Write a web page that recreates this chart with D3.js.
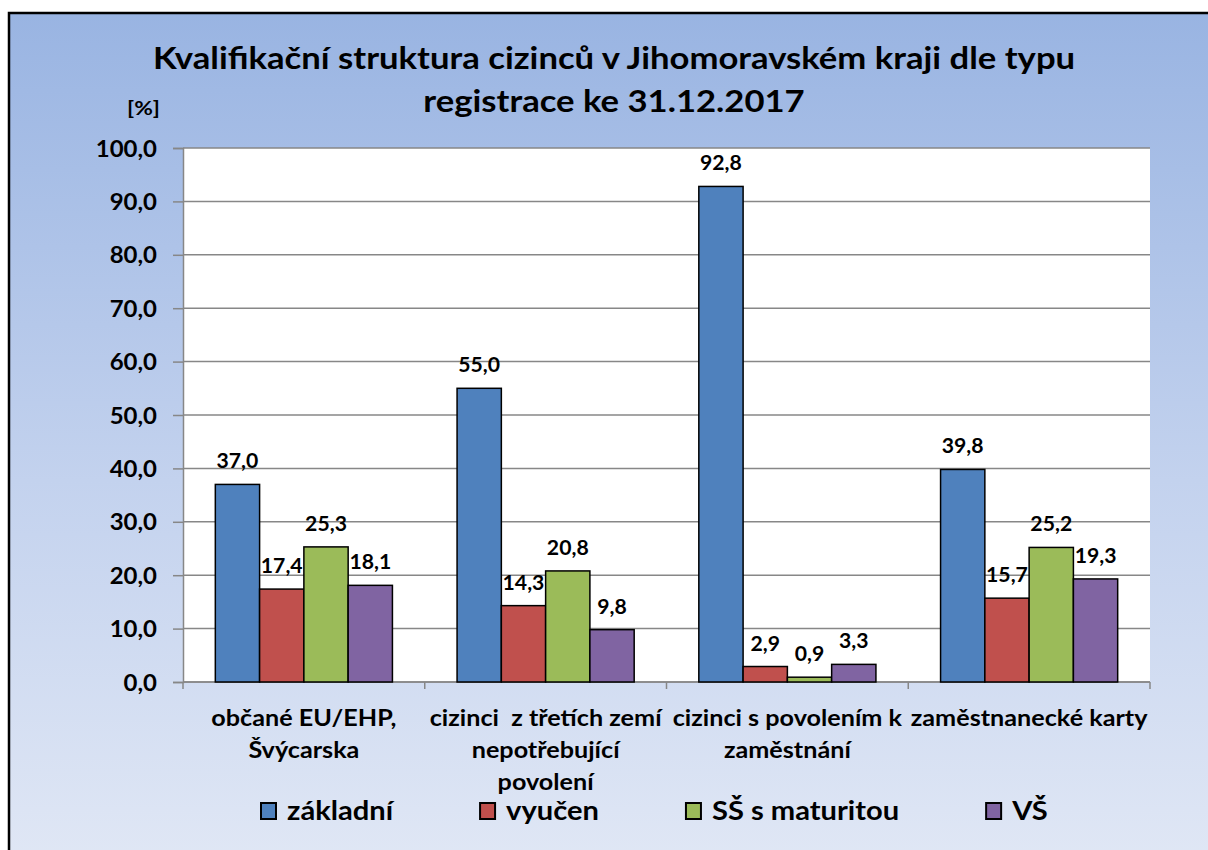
<!DOCTYPE html>
<html>
<head>
<meta charset="utf-8">
<script src="https://cdn.jsdelivr.net/npm/d3@7"></script>
<style>
  html, body { margin: 0; padding: 0; background: #ffffff; }
  svg { display: block; font-family: Lato, "Open Sans", sans-serif; font-weight: 700; }
  text { white-space: pre; }
</style>
</head>
<body>
<svg id="chart" width="1208" height="850"></svg>
<script>
// Qualification structure of foreigners (South Moravian Region, 31.12.2017), in %
const categories = [
  "občané EU/EHP,\nŠvýcarska",
  "cizinci  z třetích zemí\nnepotřebující\npovolení",
  "cizinci s povolením k\nzaměstnání",
  "zaměstnanecké karty"
];
const seriesNames = ["základní", "vyučen", "SŠ s maturitou", "VŠ"];
const zakladni = [37.0, 55.0, 92.8, 39.8];
const vyucen = [17.4, 14.3, 2.9, 15.7];
const ssMaturita = [25.3, 20.8, 0.9, 25.2];
const vs = [18.1, 9.8, 3.3, 19.3];
const yTicks = [0, 10, 20, 30, 40, 50, 60, 70, 80, 90, 100];
const titleLines = ["Kvalifikační struktura cizinců v Jihomoravském kraji dle typu", "registrace ke 31.12.2017"];
const unitLabel = "[%]";

const seriesValues = [zakladni, vyucen, ssMaturita, vs];
const colors = ["#4f81bd", "#c0504d", "#9bbb59", "#8064a2"];

const svg = d3.select("#chart");
const plot = { left: 183, right: 1150, top: 148, bottom: 682 };

// Lato is a touch narrower than the chart's typeface; widen glyphs horizontally
function place(sel, x, y, sx) {
  return sel.attr("transform", `translate(${x},${y}) scale(${sx},1)`);
}

// background panel with vertical gradient
const defs = svg.append("defs");
const grad = defs.append("linearGradient").attr("id", "bg")
  .attr("x1", 0).attr("y1", 0).attr("x2", 0).attr("y2", 1);
grad.append("stop").attr("offset", "0%").attr("stop-color", "#99b4e2");
grad.append("stop").attr("offset", "55%").attr("stop-color", "#c3d2ee");
grad.append("stop").attr("offset", "100%").attr("stop-color", "#e0e7f5");

svg.append("rect")
  .attr("x", 9).attr("y", 13).attr("width", 1215).attr("height", 850)
  .attr("fill", "url(#bg)").attr("stroke", "#000").attr("stroke-width", 2.5);

// plot area
svg.append("rect")
  .attr("x", plot.left).attr("y", plot.top)
  .attr("width", plot.right - plot.left).attr("height", plot.bottom - plot.top)
  .attr("fill", "#ffffff");

const x0 = d3.scaleBand().domain(d3.range(categories.length))
  .range([plot.left, plot.right]).paddingInner(0).paddingOuter(0);
const x1 = d3.scaleBand().domain(d3.range(seriesNames.length))
  .range([0, x0.bandwidth()]).paddingOuter(0.73).paddingInner(0);
const y = d3.scaleLinear().domain([0, 100]).range([plot.bottom, plot.top]);

const fmt = d3.formatLocale({ decimal: ",", thousands: " ", grouping: [3], currency: ["", ""] }).format(".1f");
const gridColor = "#878787";

// horizontal gridlines
svg.append("g").selectAll("line").data(yTicks).join("line")
  .attr("x1", plot.left).attr("x2", plot.right)
  .attr("y1", d => y(d)).attr("y2", d => y(d))
  .attr("stroke", gridColor).attr("stroke-width", 1.5);

// y axis: line and ticks from d3.axisLeft, labels drawn alongside
const yAxis = svg.append("g").attr("transform", `translate(${plot.left},0)`)
  .call(d3.axisLeft(y).tickValues(yTicks).tickFormat("").tickSize(10));
yAxis.select(".domain").attr("stroke", gridColor).attr("stroke-width", 1.5);
yAxis.selectAll(".tick line").attr("stroke", gridColor).attr("stroke-width", 1.5);
svg.append("g").selectAll("text").data(yTicks).join("text")
  .attr("text-anchor", "end").attr("dominant-baseline", "central")
  .style("font-size", "22px").attr("fill", "#000")
  .text(d => fmt(d))
  .each(function(d) { place(d3.select(this), plot.left - 26, y(d), 1.09); });

// x axis with ticks at category boundaries
const bounds = d3.range(categories.length + 1).map(i => i < categories.length ? x0(i) : plot.right);
svg.append("line").attr("x1", plot.left).attr("x2", plot.right)
  .attr("y1", plot.bottom).attr("y2", plot.bottom)
  .attr("stroke", gridColor).attr("stroke-width", 1.5);
svg.append("g").selectAll("line").data(bounds).join("line")
  .attr("x1", d => d).attr("x2", d => d)
  .attr("y1", plot.bottom).attr("y2", plot.bottom + 7)
  .attr("stroke", gridColor).attr("stroke-width", 1.5);

// category labels
const catG = svg.append("g");
categories.forEach((c, i) => {
  const t = catG.append("text")
    .attr("text-anchor", "middle")
    .style("font-size", "22.5px").attr("fill", "#000");
  place(t, x0(i) + x0.bandwidth() / 2, 726, 1.12);
  c.split("\n").forEach((ln, k) => {
    t.append("tspan").attr("x", 0).attr("y", k * 32).text(ln);
  });
});

// bars
const groups = svg.append("g").selectAll("g").data(categories).join("g")
  .attr("transform", (d, i) => `translate(${x0(i)},0)`);
groups.each(function(c, i) {
  const g = d3.select(this);
  seriesValues.forEach((vals, s) => {
    g.append("rect")
      .attr("x", x1(s)).attr("width", x1.bandwidth())
      .attr("y", y(vals[i])).attr("height", y(0) - y(vals[i]))
      .attr("fill", colors[s]).attr("stroke", "#000").attr("stroke-width", 1.5);
  });
  seriesValues.forEach((vals, s) => {
    const t = g.append("text")
      .attr("text-anchor", "middle")
      .style("font-size", "20px").attr("fill", "#000")
      .text(fmt(vals[i]));
    place(t, x1(s) + x1.bandwidth() / 2, y(vals[i]) - 16, 1.06);
  });
});

// title
const title = svg.append("text").attr("text-anchor", "middle")
  .style("font-size", "30px").attr("fill", "#000");
place(title, 614, 69, 1.155);
titleLines.forEach((ln, k) => {
  title.append("tspan").attr("x", 0).attr("y", k * 43).text(ln);
});

// unit label
place(svg.append("text").attr("text-anchor", "end")
  .style("font-size", "19px").attr("fill", "#000").text(unitLabel), 160, 115, 1.2);

// legend, laid out left to right
const legend = svg.append("g");
const legendScale = 1.12;
let lx = 260;
seriesNames.forEach((name, s) => {
  legend.append("rect").attr("x", lx + 1).attr("y", 803).attr("width", 15).attr("height", 16)
    .attr("fill", colors[s]).attr("stroke", "#000").attr("stroke-width", 2);
  const t = legend.append("text")
    .style("font-size", "26px").attr("fill", "#000").text(name);
  place(t, lx + 27, 820, legendScale);
  lx += 27 + t.node().getComputedTextLength() * legendScale + 86;
});
</script>
</body>
</html>
